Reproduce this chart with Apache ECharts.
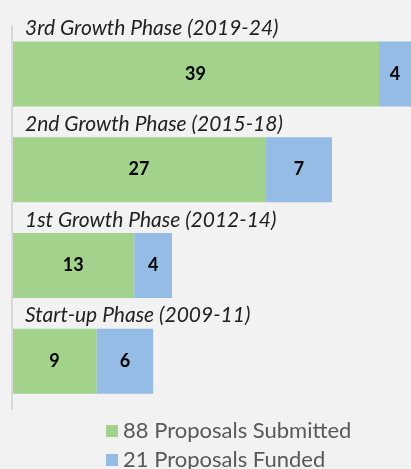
<!DOCTYPE html>
<html>
<head>
<meta charset="utf-8">
<script src="https://cdn.jsdelivr.net/npm/echarts@6/dist/echarts.min.js"></script>
<style>
  html, body { margin: 0; padding: 0; background: #f2f2f2; }
  #chart { width: 411px; height: 469px; }
</style>
</head>
<body>
<div id="chart"></div>
<script>
var phases = ['3rd Growth Phase (2019-24)', '2nd Growth Phase (2015-18)', '1st Growth Phase (2012-14)', 'Start-up Phase (2009-11)'];
var submitted = [39, 27, 13, 9];
var funded = [4, 7, 4, 6];
var seriesNames = ['88 Proposals Submitted', '21 Proposals Funded'];

var myChart = echarts.init(document.getElementById('chart'));

var barLabel = {
    show: true,
    position: 'inside',
    color: '#000',
    fontWeight: 'bold',
    fontSize: 18,
    fontFamily: 'Lato'
};

var legendText = {
    color: '#595959',
    fontSize: 22,
    fontFamily: 'Lato'
};

var option = {
    backgroundColor: '#f2f2f2',
    animation: false,
    grid: {
        left: 12,
        right: 0,
        top: 26,
        bottom: 60
    },
    legend: [{
        left: 101,
        top: 415,
        icon: 'rect',
        itemWidth: 12,
        itemHeight: 12,
        itemGap: 6,
        textStyle: legendText,
        data: [seriesNames[0]]
    }, {
        left: 101,
        top: 444,
        icon: 'rect',
        itemWidth: 12,
        itemHeight: 12,
        textStyle: legendText,
        data: [seriesNames[1]]
    }],
    xAxis: {
        type: 'value',
        min: 0,
        max: 42.4,
        show: false
    },
    yAxis: {
        type: 'category',
        inverse: true,
        z: 10,
        data: phases,
        axisLine: { show: true, lineStyle: { color: '#d9d9d9', width: 2 } },
        axisTick: { show: false },
        axisLabel: {
            inside: true,
            interval: 0,
            hideOverlap: false,
            formatter: function(v) { return '{t|' + v + '}'; },
            rich: {
                t: {
                    padding: [0, 0, 91, 5],
                    lineHeight: 24,
                    color: '#222',
                    fontSize: 21,
                    fontStyle: 'italic',
                    fontFamily: 'Lato'
                }
            }
        }
    },
    series: [{
        name: seriesNames[0],
        type: 'bar',
        stack: 'total',
        barWidth: 65,
        itemStyle: { color: '#a2d28b' },
        label: barLabel,
        data: submitted
    }, {
        name: seriesNames[1],
        type: 'bar',
        stack: 'total',
        barWidth: 65,
        itemStyle: { color: '#94bce4' },
        label: barLabel,
        data: funded
    }]
};

myChart.setOption(option);
</script>
</body>
</html>
